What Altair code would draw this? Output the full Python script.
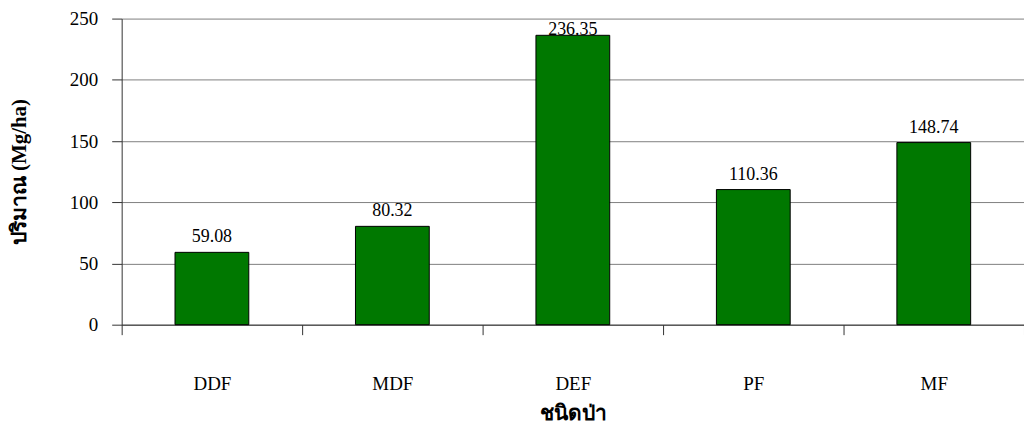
import altair as alt
import pandas as pd

categories = ["DDF", "MDF", "DEF", "PF", "MF"]
values = [59.08, 80.32, 236.35, 110.36, 148.74]
value_labels = ["59.08", "80.32", "236.35", "110.36", "148.74"]

df = pd.DataFrame({"cat": categories, "val": values, "lab": value_labels})

FONT = "Liberation Serif"

x = alt.X("cat:N", sort=categories, title="ชนิดป่า",
          scale=alt.Scale(paddingInner=0, paddingOuter=0),
          axis=alt.Axis(labelAngle=0, tickBand="extent", tickSize=10, tickColor="#333333",
                        domainColor="#333333", labelPadding=40, labelFontSize=19,
                        labelFont=FONT, labelColor="black", titleFont=FONT,
                        titleFontSize=21, titleFontWeight="bold", titleColor="black",
                        titlePadding=9, grid=False))

y = alt.Y("val:Q", title="ปริมาณ (Mg/ha)",
          scale=alt.Scale(domain=[0, 250], nice=False),
          axis=alt.Axis(values=[0, 50, 100, 150, 200, 250], tickSize=10, tickColor="#333333",
                        domainColor="#333333", labelPadding=14, labelFontSize=19,
                        labelFont=FONT, labelColor="black", titleFont=FONT,
                        titleFontSize=21, titleFontWeight="bold", titleColor="black",
                        titlePadding=40, grid=True, gridColor="#808080", gridWidth=1))

bars = alt.Chart(df).mark_bar(color="#007800", stroke="black", strokeWidth=1, width=74).encode(x=x, y=y)
text_low = alt.Chart(df).transform_filter("datum.val < 230").mark_text(
    dy=-10, baseline="alphabetic", font=FONT, fontSize=18, color="black").encode(
    x=alt.X("cat:N", sort=categories), y="val:Q", text="lab:N")
text_high = alt.Chart(df).transform_filter("datum.val >= 230").mark_text(
    dy=0, baseline="alphabetic", font=FONT, fontSize=18, color="black").encode(
    x=alt.X("cat:N", sort=categories), y="val:Q", text="lab:N")

chart = (bars + text_low + text_high).properties(
    width=905, height=307,
    autosize=alt.AutoSizeParams(type="none"),
    padding={"left": 114, "top": 10, "right": 0, "bottom": 104},
    background="white",
).configure_view(stroke=None)

chart.save("out.html", embed_options={"renderer": "svg", "actions": False})
